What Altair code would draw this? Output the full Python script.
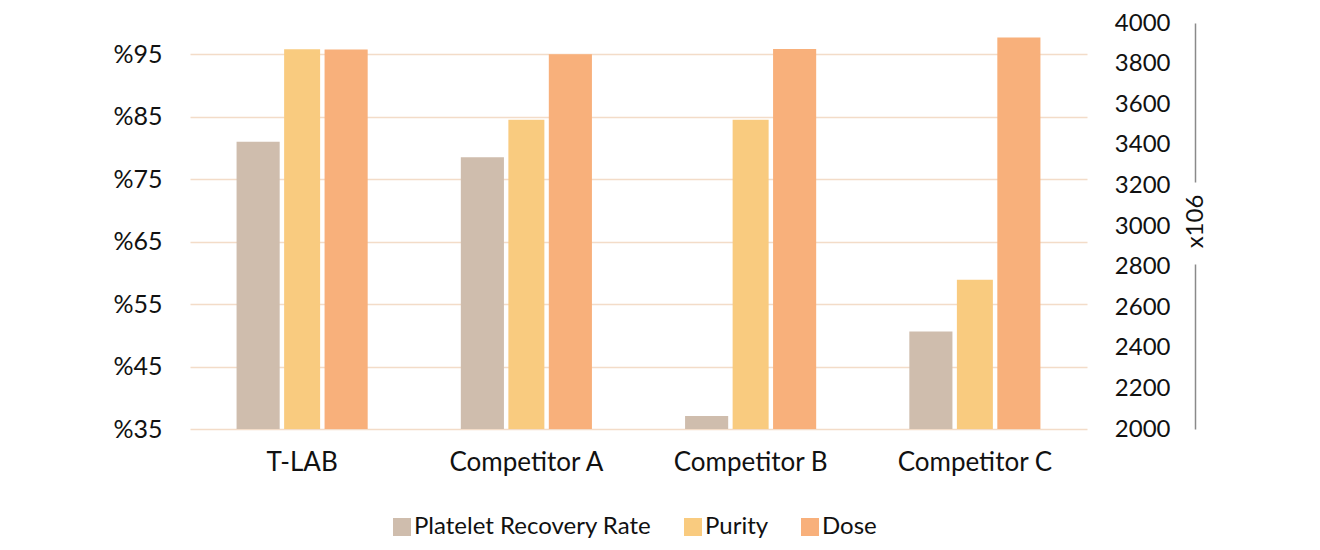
import altair as alt
import pandas as pd

categories = ["T-LAB", "Competitor A", "Competitor B", "Competitor C"]
series = ["Platelet Recovery Rate", "Purity", "Dose"]
recovery = [81.0, 78.5, 37.1, 50.6]
purity = [95.8, 84.5, 84.5, 58.9]
dose = [3870, 3846, 3872, 3929]
colors = ["#cfbdad", "#f9cb7f", "#f8b07b"]
pct_ticks = [35, 45, 55, 65, 75, 85, 95]
dose_ticks = [2000, 2200, 2400, 2600, 2800, 3000, 3200, 3400, 3600, 3800, 4000]

rows = []
for i, c in enumerate(categories):
    rows.append({"cat": c, "series": series[0], "pct": recovery[i]})
    rows.append({"cat": c, "series": series[1], "pct": purity[i]})
    rows.append({"cat": c, "series": series[2], "dose": dose[i]})
df = pd.DataFrame(rows)

FONT = "Lato"
W, H = 897, 406

x = alt.X("cat:N", sort=categories, scale=alt.Scale(paddingInner=0.4114, paddingOuter=0.2057),
          axis=alt.Axis(title=None, domain=False, ticks=False, labelPadding=20,
                        labelFont=FONT, labelFontSize=26, labelColor="#111", labelAngle=0))
xo = alt.XOffset("series:N", sort=series,
                 scale=alt.Scale(domain=series, paddingInner=0.02, paddingOuter=0.01))
color = alt.Color("series:N", scale=alt.Scale(domain=series, range=colors),
                  legend=alt.Legend(title=None, orient="none", legendX=200, legendY=492,
                                    direction="horizontal", symbolType="square",
                                    symbolSize=324, symbolStrokeWidth=0, labelFont=FONT,
                                    labelFontSize=24, labelColor="#111", labelOffset=0,
                                    columnPadding=29, padding=0, labelLimit=500))

yleft = alt.Y("pct:Q", scale=alt.Scale(domain=[35, 100], nice=False, zero=False),
              axis=alt.Axis(title=None, values=pct_ticks, domain=False, ticks=False, tickSize=0,
                            labelPadding=28, labelFont=FONT, labelFontSize=25, labelColor="#111",
                            labelExpr="'%' + datum.value", grid=True, gridColor="#f3dcc8",
                            gridWidth=1.6))

base = alt.Chart(df)
prr = base.transform_filter(alt.datum.series == series[0]).mark_bar().encode(
    x=x, xOffset=xo, y=yleft, y2=alt.datum(35), color=color)
pur = base.transform_filter(alt.datum.series == series[1]).mark_bar(width=36).encode(
    x=x, xOffset=xo, y=yleft, y2=alt.datum(35), color=color)
dos = base.transform_filter(alt.datum.series == series[2]).mark_bar().encode(
    x=x, xOffset=xo,
    y=alt.Y("dose:Q", scale=alt.Scale(domain=[2000, 4000], nice=False, zero=False),
            axis=alt.Axis(title="x106", orient="right", values=dose_ticks, offset=108,
                          format="d", ticks=False, tickSize=0, labelAlign="right",
                          labelPadding=-25, labelFont=FONT, labelFontSize=24,
                          labelColor="#111", grid=False, domain=True, domainColor="#8a8a8a",
                          domainWidth=1.5, domainDash=[165, 82, 400], titleX=0, titleY=198,
                          titleAngle=270, titleAlign="center", titleBaseline="middle",
                          titleFont=FONT, titleFontSize=24, titleFontWeight="normal",
                          titleColor="#111")),
    y2=alt.datum(2000),
    color=color)

chart = alt.layer(alt.layer(prr, pur), dos).resolve_scale(y="independent").properties(
    width=W, height=H,
    background="white",
    autosize=alt.AutoSizeParams(type="none"),
    padding={"left": 182, "top": 15, "right": 200, "bottom": 125},
).configure_view(stroke="transparent", strokeWidth=0)

chart.save("out.html", embed_options={"renderer": "svg", "actions": False})
